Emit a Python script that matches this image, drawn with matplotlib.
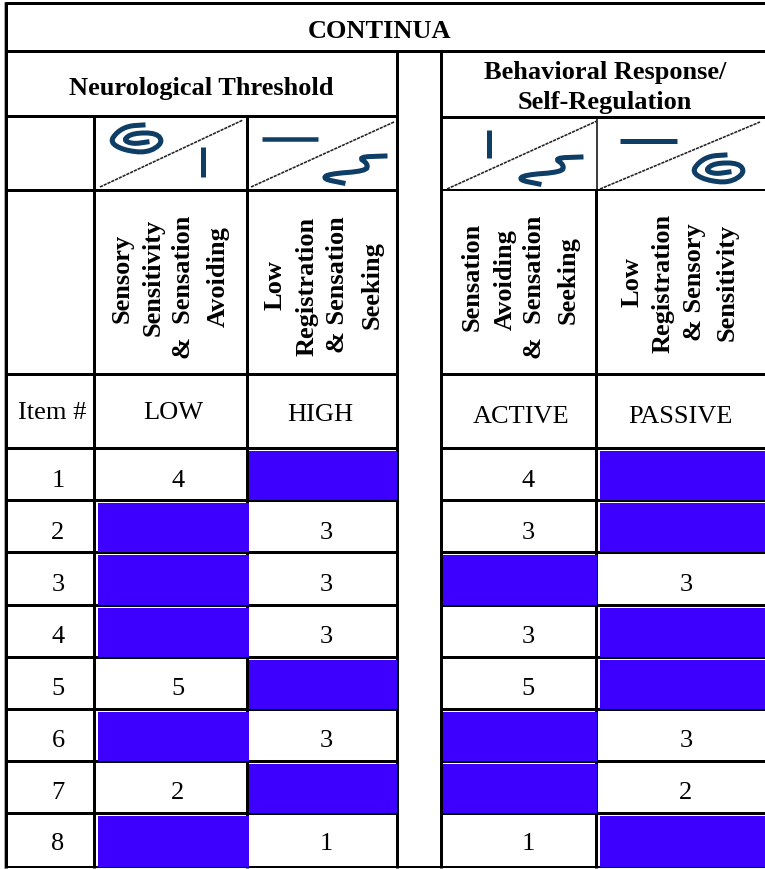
import matplotlib
matplotlib.use("Agg")
import matplotlib.pyplot as plt
from matplotlib.patches import Rectangle

plt.rcParams['font.family'] = ['Liberation Serif', 'DejaVu Serif']

title = "CONTINUA"
groups = ["Neurological Threshold", "Behavioral Response/", "Self-Regulation"]
row_heads = ["Item #", "LOW", "HIGH", "ACTIVE", "PASSIVE"]
items = [1, 2, 3, 4, 5, 6, 7, 8]
# None = blue cell
low = [4, None, None, None, 5, None, 2, None]
high = [None, 3, 3, 3, None, 3, None, 1]
active = [4, 3, None, 3, 5, None, None, 1]
passive = [None, None, 3, None, None, 3, 2, None]

# rotated header lines, each (text, x centre, y centre)
rot_low = [("Sensory", 122, 278), ("Sensitivity", 153, 277), ("&  Sensation", 184, 287), ("Avoiding", 218, 277)]
rot_high = [("Low", 275, 285), ("Registration", 307, 286), ("& Sensation", 338, 285), ("Seeking", 372, 285)]
rot_active = [("Sensation", 472, 277), ("Avoiding", 505, 280), ("&  Sensation", 535, 287), ("Seeking", 568, 280)]
rot_passive = [("Low", 632, 282), ("Registration", 663, 283), ("& Sensory", 695, 282), ("Sensitivity", 727, 282)]

# icons, pixel outlines
spiral = [(143,125),(128,126),(117,132),(110,142),(123,150),(147,153),(163,143),(157,133),(133,133),(123,140),(133,144),(147,142)]
squiggle = [(385,156),(358,157),(368,164),(366,171),(328,174),(323,179),(343,183)]

# layout in pixels
row_lines = [448, 500, 552, 605, 657, 709, 761, 813, 867]
text_y = [481, 533, 585, 637, 689, 741, 793, 844]
col_x = {"item": 58, "low": 178, "high": 326, "active": 528, "passive": 686}
blue = "#3d00ff"
navy = "#0e3d66"
px = 0.72
fs = 19

fig = plt.figure(figsize=(7.65, 8.69), dpi=100)
ax = fig.add_axes([0, 0, 1, 1])
ax.set_xlim(0, 765)
ax.set_ylim(869, 0)
ax.axis("off")


def hline(y, x0, x1, w=3):
    ax.plot([x0, x1], [y, y], color="black", lw=w * px, solid_capstyle="butt", zorder=2)


def vline(x, y0, y1, w=3):
    ax.plot([x, x], [y0, y1], color="black", lw=w * px, solid_capstyle="butt", zorder=2)


def smooth(pts, n=2):
    for _ in range(n):
        new = [pts[0]]
        for a, b in zip(pts[:-1], pts[1:]):
            new.append((0.75 * a[0] + 0.25 * b[0], 0.75 * a[1] + 0.25 * b[1]))
            new.append((0.25 * a[0] + 0.75 * b[0], 0.25 * a[1] + 0.75 * b[1]))
        new.append(pts[-1])
        pts = new
    return pts


def icon(pts, dx=0, dy=0):
    pts = smooth(pts)
    ax.plot([p[0] + dx for p in pts], [p[1] + dy for p in pts], color=navy, lw=5 * px, zorder=4)


# outer grey edge
ax.plot([4, 4], [2, 869], color="#aaaaaa", lw=1 * px, zorder=1)

# frame lines
hline(3, 5, 765, 3)
hline(51, 5, 765, 3)
hline(116, 5, 398, 3)
hline(117, 441, 765, 3)
hline(190, 5, 398, 3)
hline(190, 441, 765, 2)
hline(374, 5, 398, 3)
hline(374, 441, 765, 3)
for y in row_lines[:-1]:
    hline(y, 5, 398, 3)
    hline(y, 441, 765, 3)
hline(867, 5, 765, 2)

vline(6.5, 2, 868, 3)
vline(94.5, 116, 868, 3)
vline(247, 116, 868, 3)
vline(397.5, 50, 868, 3)
vline(441, 50, 868, 3)
vline(596.5, 190, 868, 3)
vline(597, 116, 190, 1.5)

# score cells
spans = [("low", low, 98, 249), ("high", high, 249.5, 397), ("active", active, 443.5, 597.5), ("passive", passive, 600, 765)]
for name, vals, x0, x1 in spans:
    for i, v in enumerate(vals):
        if v is None:
            y0 = row_lines[i] + 3
            y1 = row_lines[i + 1] - 0.5
            ax.add_patch(Rectangle((x0, y0), x1 - x0, y1 - y0, fc=blue, ec="none", zorder=3))
        else:
            ax.text(col_x[name], text_y[i], str(v), fontsize=fs, ha="center", va="center", zorder=5)

for i, v in enumerate(items):
    ax.text(col_x["item"], text_y[i], str(v), fontsize=fs, ha="center", va="center", zorder=5)

# titles
ax.text(380, 31, title, fontsize=fs, fontweight="bold", ha="center", va="center")
ax.text(201, 88, groups[0], fontsize=fs, fontweight="bold", ha="center", va="center")
ax.text(605, 72, groups[1], fontsize=fs, fontweight="bold", ha="center", va="center")
ax.text(605, 102, groups[2], fontsize=fs, fontweight="bold", ha="center", va="center")

# row of level labels
head_pos = [(52, 413), (173, 413), (320, 415), (521, 417), (680, 417)]
for s, (x, y) in zip(row_heads, head_pos):
    ax.text(x, y, s, fontsize=fs, ha="center", va="center")

for lines in (rot_low, rot_high, rot_active, rot_passive):
    for s, x, y in lines:
        ax.text(x, y, s, fontsize=fs, fontweight="bold", rotation=90, ha="center", va="center")

# diagonals
for x0, y0, x1, y1 in [(100, 187, 243, 120), (251, 187, 394, 122), (447, 189, 597, 121), (600, 189, 760, 122)]:
    ax.plot([x0, x1], [y0, y1], color="#222222", lw=1.6 * px, ls=(0, (2, 0.6)), zorder=3)

# icons
icon(spiral)
icon(spiral, 582, 30)
icon(squiggle)
icon(squiggle, 196, 1)
ax.plot([203, 203], [147, 177], color=navy, lw=5 * px, solid_capstyle="butt", zorder=4)
ax.plot([489, 489], [130, 158], color=navy, lw=5 * px, solid_capstyle="butt", zorder=4)
ax.plot([262, 318], [139, 139], color=navy, lw=4.5 * px, solid_capstyle="butt", zorder=4)
ax.plot([620, 677], [141, 141], color=navy, lw=5 * px, solid_capstyle="butt", zorder=4)

fig.savefig("out.png", dpi=100)
